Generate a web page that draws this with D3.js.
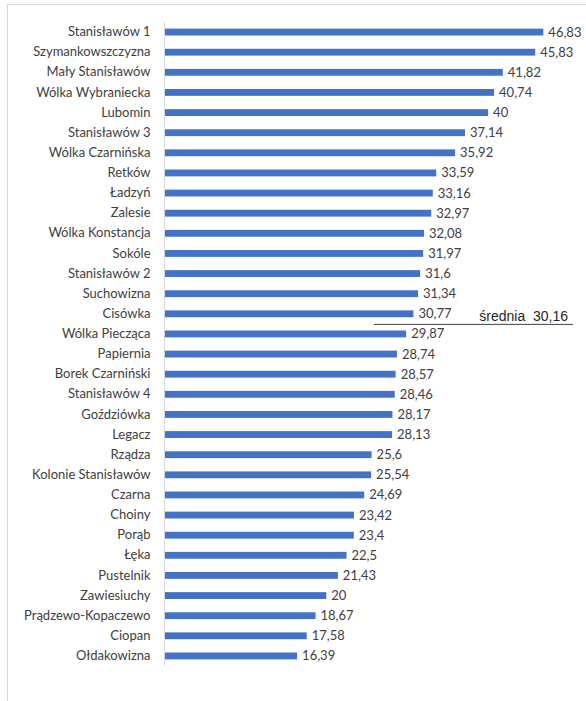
<!DOCTYPE html>
<html><head><meta charset="utf-8">
<script src="https://cdn.jsdelivr.net/npm/d3@7"></script>
<style>body{margin:0;background:#fff}svg{display:block}</style>
</head><body>
<svg id="c" width="586" height="701"></svg>
<script>
const categories = ["Stanisławów 1","Szymankowszczyzna","Mały Stanisławów","Wólka Wybraniecka","Lubomin","Stanisławów 3","Wólka Czarnińska","Retków","Ładzyń","Zalesie","Wólka Konstancja","Sokóle","Stanisławów 2","Suchowizna","Cisówka","Wólka Piecząca","Papiernia","Borek Czarniński","Stanisławów 4","Goździówka","Legacz","Rządza","Kolonie Stanisławów","Czarna","Choiny","Porąb","Łęka","Pustelnik","Zawiesiuchy","Prądzewo-Kopaczewo","Ciopan","Ołdakowizna"];
const values = [46.83,45.83,41.82,40.74,40,37.14,35.92,33.59,33.16,32.97,32.08,31.97,31.6,31.34,30.77,29.87,28.74,28.57,28.46,28.17,28.13,25.6,25.54,24.69,23.42,23.4,22.5,21.43,20,18.67,17.58,16.39];
const valueLabels = ["46,83","45,83","41,82","40,74","40","37,14","35,92","33,59","33,16","32,97","32,08","31,97","31,6","31,34","30,77","29,87","28,74","28,57","28,46","28,17","28,13","25,6","25,54","24,69","23,42","23,4","22,5","21,43","20","18,67","17,58","16,39"];
const meanLabel = "średnia  30,16";

const svg = d3.select("#c");
// outer frame
svg.append("rect").attr("x",7.5).attr("y",4.5).attr("width",600).attr("height",720)
  .attr("fill","none").attr("stroke","#d9d9d9").attr("stroke-width",1);

const x = d3.scaleLinear().domain([0,50]).range([164.5,164.5+50*8.09]);
const y = d3.scaleBand().domain(categories).range([22,666]).paddingInner(0.66).paddingOuter(0.33);

// bars
svg.append("g").selectAll("rect").data(values).join("rect")
  .attr("x",x(0)).attr("y",(d,i)=>y(categories[i]))
  .attr("width",d=>x(d)-x(0)).attr("height",y.bandwidth())
  .attr("fill","#4472c4");

// axis
const ax = svg.append("g").attr("transform",`translate(${x(0)},0)`)
  .call(d3.axisLeft(y).tickSize(0).tickPadding(14));
ax.select(".domain").attr("stroke","#d9d9d9").attr("d",`M0,22V666`);
ax.selectAll("text").attr("font-family","Lato, 'Open Sans', sans-serif").attr("font-size",13).attr("fill","#404040");

// value labels
svg.append("g").selectAll("text").data(values).join("text")
  .attr("x",d=>x(d)+5).attr("y",(d,i)=>y(categories[i])+y.bandwidth()/2)
  .attr("dy","0.35em")
  .attr("font-family","Lato, 'Open Sans', sans-serif").attr("font-size",13).attr("fill","#404040")
  .text((d,i)=>valueLabels[i]);

// mean annotation
const my = (y("Cisówka")+y.bandwidth() + y("Wólka Piecząca"))/2 + 0.5;
svg.append("line").attr("x1",374).attr("x2",573).attr("y1",my).attr("y2",my)
  .attr("stroke","#404040").attr("stroke-width",1);
svg.append("text").attr("x",568).attr("y",my-3).attr("text-anchor","end")
  .attr("font-family","'Liberation Sans', Arial, sans-serif").attr("font-size",14).attr("fill","#262626")
  .attr("xml:space","preserve").style("white-space","pre")
  .text(meanLabel);
</script>
</body></html>
